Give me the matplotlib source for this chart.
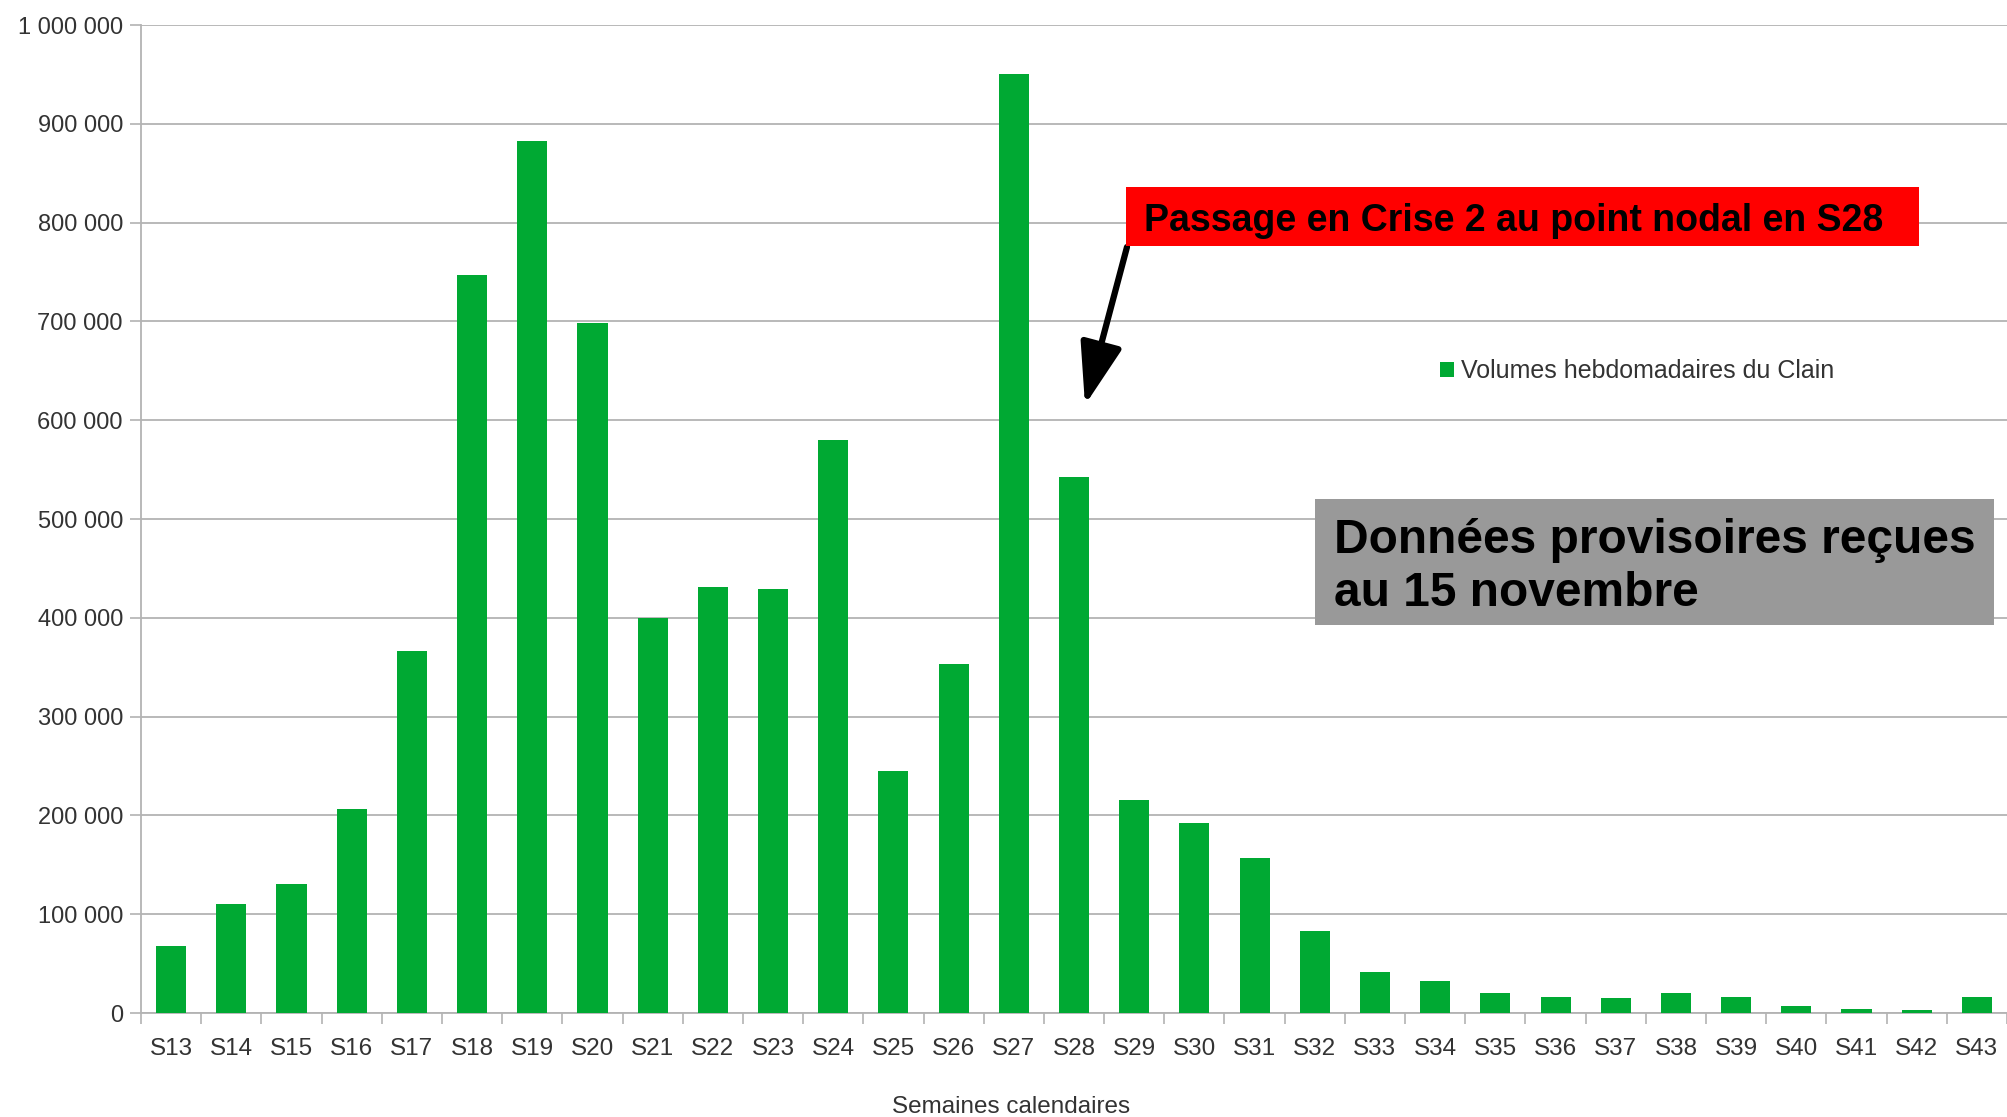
import matplotlib
matplotlib.use("Agg")
import matplotlib.pyplot as plt
from matplotlib.patches import Rectangle
from matplotlib.ticker import FuncFormatter, FixedLocator
import numpy as np

plt.rcParams['font.family'] = ['Liberation Sans', 'DejaVu Sans']

weeks = ["S13", "S14", "S15", "S16", "S17", "S18", "S19", "S20", "S21", "S22",
         "S23", "S24", "S25", "S26", "S27", "S28", "S29", "S30", "S31", "S32",
         "S33", "S34", "S35", "S36", "S37", "S38", "S39", "S40", "S41", "S42", "S43"]
volumes = [68000, 110000, 131000, 206000, 366000, 747000, 883000, 698000, 400000, 431000,
           429000, 580000, 245000, 353000, 950000, 543000, 216000, 192000, 157000, 83000,
           41000, 32000, 20000, 16500, 15500, 20000, 16500, 6700, 4400, 2700, 16000]
series_name = "Volumes hebdomadaires du Clain"
xlabel = "Semaines calendaires"
note_red = "Passage en Crise 2 au point nodal en S28"
note_grey = "Données provisoires reçues\nau 15 novembre"

W, H = 2007, 1117
fig = plt.figure(figsize=(W / 100, H / 100), dpi=100)
ax = fig.add_axes([141 / W, 1 - 1013 / H, (W - 141) / W, (1013 - 25) / H])

x = np.arange(len(weeks))
ax.bar(x, volumes, width=0.5, color="#00a933", label=series_name, zorder=3)

ax.set_xlim(-0.5, len(weeks) - 0.5)
ax.set_ylim(0, 1000000)
ax.set_yticks(np.arange(0, 1000001, 100000))
ax.yaxis.set_major_formatter(FuncFormatter(lambda v, p: f"{int(v):,}".replace(",", " ")))
ax.grid(axis="y", color="#b3b3b3", lw=1.3, zorder=0)

ax.set_xticks(x)
ax.set_xticklabels(weeks)
ax.xaxis.set_minor_locator(FixedLocator(np.arange(-0.5, len(weeks), 1.0)))
ax.tick_params(axis="x", which="major", length=0, pad=18, labelsize=17.5, labelcolor="#333333")
ax.tick_params(axis="x", which="minor", length=8, width=1.2, color="#b3b3b3")
ax.tick_params(axis="y", length=8, width=1.2, color="#b3b3b3", pad=5, labelsize=17, labelcolor="#333333")

for s in ["top", "right"]:
    ax.spines[s].set_visible(False)
for s in ["left", "bottom"]:
    ax.spines[s].set_color("#b3b3b3")
    ax.spines[s].set_linewidth(1.3)

ax.set_xlabel(xlabel, fontsize=17.5, color="#333333", va="center")
ax.xaxis.set_label_coords((1011 - 141) / (W - 141), -(1107 - 1013) / (1013 - 25))

leg = ax.legend(loc="center left", bbox_to_anchor=(1440 / W, 1 - 371 / H),
                bbox_transform=fig.transFigure, frameon=False, fontsize=18,
                handlelength=0.55, handleheight=0.55, handletextpad=0.3,
                borderpad=0, borderaxespad=0)
for t in leg.get_texts():
    t.set_color("#333333")

# red annotation box
fig.patches.append(Rectangle((1126 / W, 1 - 246 / H), (1919 - 1126) / W, 59 / H,
                             transform=fig.transFigure, facecolor="#ff0000",
                             edgecolor="none", zorder=5))
fig.text(1144 / W, 1 - 221 / H, note_red, fontsize=27, fontweight="bold",
         color="black", ha="left", va="center", zorder=6)

# grey note box
fig.patches.append(Rectangle((1315 / W, 1 - 625 / H), (1994 - 1315) / W, 126 / H,
                             transform=fig.transFigure, facecolor="#999999",
                             edgecolor="none", zorder=5))
fig.text(1334 / W, 1 - 567 / H, note_grey, fontsize=34.5, fontweight="bold",
         color="black", ha="left", va="center", linespacing=1.25, zorder=6)

# arrow
ax.annotate("", xy=(1085 / W, 1 - 405 / H), xycoords="figure fraction",
            xytext=(1127 / W, 1 - 247 / H), textcoords="figure fraction",
            arrowprops=dict(arrowstyle="-|>,head_length=1.0,head_width=0.34",
                            mutation_scale=38, lw=4.5, color="black",
                            shrinkA=0, shrinkB=0))

fig.savefig("out.png", dpi=100)
